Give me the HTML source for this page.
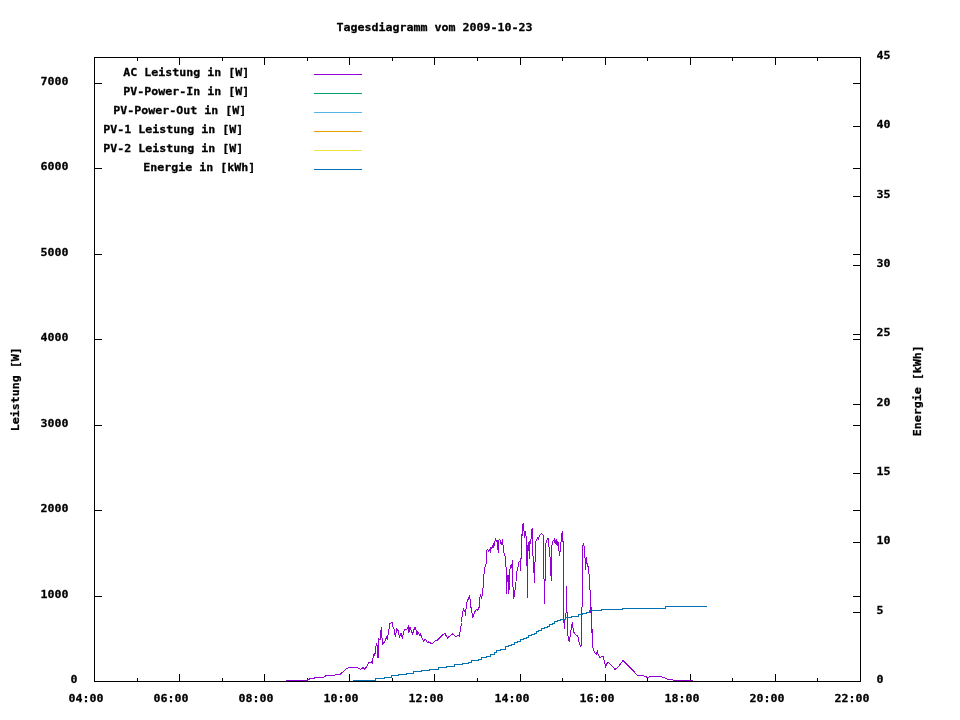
<!DOCTYPE html>
<html lang="de"><head><meta charset="utf-8"><title>Tagesdiagramm vom 2009-10-23</title>
<style>html,body{margin:0;padding:0;background:#fff;}svg{display:block;}text{font-family:"DejaVu Sans Mono", "Liberation Mono", monospace;font-size:10.600px;font-weight:bold;fill:#000;stroke:#000;stroke-width:0.25px;white-space:pre;}</style></head><body>
<svg width="960" height="720" viewBox="0 0 960 720">
<rect x="0" y="0" width="960" height="720" fill="#fff"/>
<g stroke="#000" stroke-width="1" fill="none" shape-rendering="crispEdges">
<rect x="94.5" y="57.5" width="766" height="624"/>
<line x1="137.5" y1="678" x2="137.5" y2="682"/>
<line x1="137.5" y1="57" x2="137.5" y2="61"/>
<line x1="179.5" y1="674" x2="179.5" y2="682"/>
<line x1="179.5" y1="57" x2="179.5" y2="65"/>
<line x1="222.5" y1="678" x2="222.5" y2="682"/>
<line x1="222.5" y1="57" x2="222.5" y2="61"/>
<line x1="264.5" y1="674" x2="264.5" y2="682"/>
<line x1="264.5" y1="57" x2="264.5" y2="65"/>
<line x1="307.5" y1="678" x2="307.5" y2="682"/>
<line x1="307.5" y1="57" x2="307.5" y2="61"/>
<line x1="349.5" y1="674" x2="349.5" y2="682"/>
<line x1="349.5" y1="57" x2="349.5" y2="65"/>
<line x1="392.5" y1="678" x2="392.5" y2="682"/>
<line x1="392.5" y1="57" x2="392.5" y2="61"/>
<line x1="434.5" y1="674" x2="434.5" y2="682"/>
<line x1="434.5" y1="57" x2="434.5" y2="65"/>
<line x1="477.5" y1="678" x2="477.5" y2="682"/>
<line x1="477.5" y1="57" x2="477.5" y2="61"/>
<line x1="520.5" y1="674" x2="520.5" y2="682"/>
<line x1="520.5" y1="57" x2="520.5" y2="65"/>
<line x1="562.5" y1="678" x2="562.5" y2="682"/>
<line x1="562.5" y1="57" x2="562.5" y2="61"/>
<line x1="605.5" y1="674" x2="605.5" y2="682"/>
<line x1="605.5" y1="57" x2="605.5" y2="65"/>
<line x1="647.5" y1="678" x2="647.5" y2="682"/>
<line x1="647.5" y1="57" x2="647.5" y2="61"/>
<line x1="690.5" y1="674" x2="690.5" y2="682"/>
<line x1="690.5" y1="57" x2="690.5" y2="65"/>
<line x1="732.5" y1="678" x2="732.5" y2="682"/>
<line x1="732.5" y1="57" x2="732.5" y2="61"/>
<line x1="775.5" y1="674" x2="775.5" y2="682"/>
<line x1="775.5" y1="57" x2="775.5" y2="65"/>
<line x1="817.5" y1="678" x2="817.5" y2="682"/>
<line x1="817.5" y1="57" x2="817.5" y2="61"/>
<line x1="94" y1="596.5" x2="102" y2="596.5"/>
<line x1="853" y1="596.5" x2="861" y2="596.5"/>
<line x1="94" y1="510.5" x2="102" y2="510.5"/>
<line x1="853" y1="510.5" x2="861" y2="510.5"/>
<line x1="94" y1="425.5" x2="102" y2="425.5"/>
<line x1="853" y1="425.5" x2="861" y2="425.5"/>
<line x1="94" y1="339.5" x2="102" y2="339.5"/>
<line x1="853" y1="339.5" x2="861" y2="339.5"/>
<line x1="94" y1="254.5" x2="102" y2="254.5"/>
<line x1="853" y1="254.5" x2="861" y2="254.5"/>
<line x1="94" y1="168.5" x2="102" y2="168.5"/>
<line x1="853" y1="168.5" x2="861" y2="168.5"/>
<line x1="94" y1="83.5" x2="102" y2="83.5"/>
<line x1="853" y1="83.5" x2="861" y2="83.5"/>
<line x1="853" y1="612.5" x2="861" y2="612.5"/>
<line x1="853" y1="542.5" x2="861" y2="542.5"/>
<line x1="853" y1="473.5" x2="861" y2="473.5"/>
<line x1="853" y1="404.5" x2="861" y2="404.5"/>
<line x1="853" y1="334.5" x2="861" y2="334.5"/>
<line x1="853" y1="265.5" x2="861" y2="265.5"/>
<line x1="853" y1="196.5" x2="861" y2="196.5"/>
<line x1="853" y1="126.5" x2="861" y2="126.5"/>
</g>
<text transform="translate(336.5,30.5) scale(1.0969,1)" textLength="178.688" lengthAdjust="spacing">Tagesdiagramm vom 2009-10-23</text>
<text transform="translate(70.5,683) scale(1.0969,1)" textLength="6.382" lengthAdjust="spacing">0</text>
<text transform="translate(40.5,598) scale(1.0969,1)" textLength="25.527" lengthAdjust="spacing">1000</text>
<text transform="translate(40.5,512) scale(1.0969,1)" textLength="25.527" lengthAdjust="spacing">2000</text>
<text transform="translate(40.5,427) scale(1.0969,1)" textLength="25.527" lengthAdjust="spacing">3000</text>
<text transform="translate(40.5,341) scale(1.0969,1)" textLength="25.527" lengthAdjust="spacing">4000</text>
<text transform="translate(40.5,256) scale(1.0969,1)" textLength="25.527" lengthAdjust="spacing">5000</text>
<text transform="translate(40.5,170) scale(1.0969,1)" textLength="25.527" lengthAdjust="spacing">6000</text>
<text transform="translate(40.5,85) scale(1.0969,1)" textLength="25.527" lengthAdjust="spacing">7000</text>
<text transform="translate(876.5,683) scale(1.0969,1)" textLength="6.382" lengthAdjust="spacing">0</text>
<text transform="translate(876.5,614) scale(1.0969,1)" textLength="6.382" lengthAdjust="spacing">5</text>
<text transform="translate(876.5,544) scale(1.0969,1)" textLength="12.763" lengthAdjust="spacing">10</text>
<text transform="translate(876.5,475) scale(1.0969,1)" textLength="12.763" lengthAdjust="spacing">15</text>
<text transform="translate(876.5,406) scale(1.0969,1)" textLength="12.763" lengthAdjust="spacing">20</text>
<text transform="translate(876.5,336) scale(1.0969,1)" textLength="12.763" lengthAdjust="spacing">25</text>
<text transform="translate(876.5,267) scale(1.0969,1)" textLength="12.763" lengthAdjust="spacing">30</text>
<text transform="translate(876.5,198) scale(1.0969,1)" textLength="12.763" lengthAdjust="spacing">35</text>
<text transform="translate(876.5,128) scale(1.0969,1)" textLength="12.763" lengthAdjust="spacing">40</text>
<text transform="translate(876.5,59) scale(1.0969,1)" textLength="12.763" lengthAdjust="spacing">45</text>
<text transform="translate(68.5,702) scale(1.0969,1)" textLength="31.909" lengthAdjust="spacing">04:00</text>
<text transform="translate(153.5,702) scale(1.0969,1)" textLength="31.909" lengthAdjust="spacing">06:00</text>
<text transform="translate(238.5,702) scale(1.0969,1)" textLength="31.909" lengthAdjust="spacing">08:00</text>
<text transform="translate(323.5,702) scale(1.0969,1)" textLength="31.909" lengthAdjust="spacing">10:00</text>
<text transform="translate(408.5,702) scale(1.0969,1)" textLength="31.909" lengthAdjust="spacing">12:00</text>
<text transform="translate(494.5,702) scale(1.0969,1)" textLength="31.909" lengthAdjust="spacing">14:00</text>
<text transform="translate(579.5,702) scale(1.0969,1)" textLength="31.909" lengthAdjust="spacing">16:00</text>
<text transform="translate(664.5,702) scale(1.0969,1)" textLength="31.909" lengthAdjust="spacing">18:00</text>
<text transform="translate(749.5,702) scale(1.0969,1)" textLength="31.909" lengthAdjust="spacing">20:00</text>
<text transform="translate(834.5,702) scale(1.0969,1)" textLength="31.909" lengthAdjust="spacing">22:00</text>
<text transform="translate(123.2,75.5) scale(1.0969,1)" textLength="114.871" lengthAdjust="spacing">AC Leistung in [W]</text>
<text transform="translate(123.2,94.5) scale(1.0969,1)" textLength="114.871" lengthAdjust="spacing">PV-Power-In in [W]</text>
<text transform="translate(113.2,113.5) scale(1.0969,1)" textLength="121.253" lengthAdjust="spacing">PV-Power-Out in [W]</text>
<text transform="translate(103.2,132.5) scale(1.0969,1)" textLength="127.635" lengthAdjust="spacing">PV-1 Leistung in [W]</text>
<text transform="translate(103.2,151.5) scale(1.0969,1)" textLength="127.635" lengthAdjust="spacing">PV-2 Leistung in [W]</text>
<text transform="translate(143.2,170.5) scale(1.0969,1)" textLength="102.108" lengthAdjust="spacing">Energie in [kWh]</text>
<text transform="translate(18.5,431.3) rotate(-90) scale(1.0969,1)" textLength="76.581" lengthAdjust="spacing">Leistung [W]</text>
<text transform="translate(920.5,436.3) rotate(-90) scale(1.0969,1)" textLength="82.962" lengthAdjust="spacing">Energie [kWh]</text>
<g stroke-width="1" fill="none" shape-rendering="crispEdges">
<line x1="314" y1="74.5" x2="362" y2="74.5" stroke="#9400d3"/>
<line x1="314" y1="93.5" x2="362" y2="93.5" stroke="#009e73"/>
<line x1="314" y1="112.5" x2="362" y2="112.5" stroke="#56b4e9"/>
<line x1="314" y1="131.5" x2="362" y2="131.5" stroke="#e69f00"/>
<line x1="314" y1="150.5" x2="362" y2="150.5" stroke="#f0e442"/>
<line x1="314" y1="169.5" x2="362" y2="169.5" stroke="#0072b2"/>
<polyline points="286.0,680.5 307.5,680.5 308.0,679.5 311.0,678.5 316.0,677.8 322.5,678.0 326.0,675.6 331.0,675.0 335.0,675.0 340.0,674.5 342.5,672.3 346.0,669.0 349.4,667.6 352.5,668.0 355.0,667.5 358.0,668.0 360.6,669.4 363.0,667.5 364.4,669.0 367.0,666.3 368.8,662.3 371.3,662.0 372.3,663.0 373.5,655.0 374.4,653.8 374.8,655.6 376.3,643.8 376.9,643.1 377.8,657.5 378.5,657.5 379.0,638.8 380.0,640.0 381.3,627.3 381.9,636.3 382.5,644.4 384.4,641.9 385.6,640.6 386.3,636.3 387.3,639.8 389.8,623.8 391.3,623.0 392.5,622.5 393.1,627.5 394.4,629.4 395.3,636.9 396.9,628.8 397.8,629.4 399.4,637.3 401.0,633.0 402.3,637.5 404.4,630.0 406.9,629.0 408.8,625.6 409.0,632.5 410.0,626.9 411.3,631.3 412.5,634.0 414.8,627.3 415.6,628.1 416.9,635.0 417.8,631.9 420.0,636.3 420.6,634.4 423.5,641.3 425.0,638.8 427.5,642.5 428.8,641.9 431.9,643.8 435.0,641.0 436.9,640.6 440.0,637.5 442.5,635.0 445.0,633.5 447.5,638.1 449.4,636.3 452.5,634.1 455.6,636.3 458.8,635.6 459.4,636.3 460.3,630.0 461.5,622.5 462.5,612.5 463.5,609.4 465.0,611.9 465.4,616.3 466.5,603.8 467.5,600.6 469.4,596.3 470.3,600.0 471.0,607.5 472.8,617.5 474.4,612.5 476.3,609.4 477.5,610.6 479.0,607.5 479.6,605.0 480.0,597.5 480.6,594.4 481.5,597.5 482.8,593.1 483.5,577.5 485.0,567.5 486.3,562.5 486.5,550.6 487.8,549.4 488.8,551.3 489.4,549.8 490.3,551.5 491.0,547.5 491.9,549.0 492.5,545.6 493.1,548.1 494.0,543.1 494.5,545.6 495.3,538.1 496.3,541.3 497.3,540.6 497.8,548.8 498.4,552.5 499.0,540.0 499.8,539.0 500.6,543.8 501.5,544.4 502.5,539.4 503.0,545.0 503.8,552.5 505.0,556.3 505.6,565.0 506.3,568.8 506.5,594.4 507.3,575.0 508.1,575.0 508.5,594.4 509.0,581.3 509.5,590.0 510.0,568.8 511.3,564.4 511.9,567.5 512.5,560.3 512.8,586.3 513.5,588.8 513.8,599.4 514.8,590.0 515.6,589.4 516.5,572.5 517.5,570.0 518.8,562.5 520.0,561.3 520.3,570.6 520.6,558.8 521.3,558.1 521.5,534.4 522.3,536.3 522.5,525.6 523.5,523.1 524.0,530.6 524.5,538.1 525.0,531.3 525.6,535.6 526.3,536.9 526.8,566.3 527.3,545.0 527.5,597.5 528.1,544.4 528.8,541.9 529.5,558.8 530.0,541.3 530.8,544.4 531.3,531.3 532.3,528.1 532.8,548.8 533.5,572.5 534.0,563.8 534.5,582.5 535.0,562.5 535.6,541.9 536.5,540.0 537.5,537.5 538.5,538.8 539.4,535.6 541.3,533.5 543.1,535.0 543.8,565.0 544.4,603.8 545.0,582.5 545.6,545.0 546.9,540.0 548.1,538.5 548.8,545.0 549.8,552.5 550.6,568.8 551.3,580.6 551.5,548.8 552.5,541.9 553.5,540.5 554.4,539.4 554.9,542.5 555.4,539.8 555.9,543.5 556.5,538.8 557.0,544.5 557.5,541.0 557.9,546.0 558.3,542.5 559.4,555.6 560.3,550.0 560.5,542.5 561.5,541.7 561.5,534.2 562.5,531.3 562.5,541.7 563.5,542.0 563.6,600.0 563.8,620.0 564.4,628.8 565.3,615.0 566.0,613.8 566.5,586.0 566.9,607.5 567.5,631.3 568.5,640.0 569.4,641.3 570.6,632.5 572.3,622.5 573.5,631.9 575.6,634.4 577.8,636.3 579.4,643.8 580.6,646.3 581.3,645.0 581.5,607.5 582.4,606.3 582.5,547.0 583.5,543.0 584.3,547.0 584.4,557.5 585.4,558.3 585.5,569.6 586.5,557.0 586.5,563.0 587.5,563.3 587.5,566.7 588.5,567.0 588.5,573.8 589.5,574.2 590.0,590.0 590.6,597.5 590.8,613.0 591.1,607.0 591.4,628.0 591.7,616.0 592.1,638.0 592.3,629.0 592.6,646.9 594.4,651.9 596.3,654.4 597.5,650.6 597.8,653.8 600.0,657.5 603.1,656.3 605.6,666.3 607.5,662.5 609.4,663.1 615.0,669.4 617.8,667.5 623.1,660.4 630.0,667.5 637.5,675.3 643.1,675.4 647.5,677.5 651.9,676.3 660.6,676.3 667.5,679.1 673.0,679.8 673.8,680.5 692.5,680.5" fill="none" stroke="#9400d3" stroke-width="1"/>
<polyline points="352.5,680.5 375.5,680.5 375.5,678.6 384.2,678.6 384.2,677.5 391.9,677.5 391.9,675.6 398.8,675.6 398.8,674.4 406.2,674.4 406.2,673.1 413.8,673.1 413.8,671.6 421.9,671.6 421.9,670.2 429.4,670.2 429.4,669.1 438.8,669.1 438.8,667.5 446.9,667.5 446.9,666.2 454.4,666.2 454.4,664.8 462.5,664.8 462.5,663.5 468.1,663.5 468.1,662.2 471.9,662.2 471.9,660.6 478.1,660.6 478.1,659.0 481.9,659.0 481.9,657.5 486.2,657.5 486.2,656.0 490.6,656.0 490.6,654.0 494.4,654.0 494.4,652.5 496.9,652.5 496.9,650.6 500.6,650.6 500.6,649.1 505.0,649.1 505.0,646.9 508.0,646.9 508.0,645.6 508.0,645.6 508.0,645.4 511.5,645.4 511.5,644.1 514.5,644.1 514.5,642.7 517.5,642.7 517.5,641.3 520.5,641.3 520.5,639.9 523.0,639.9 523.0,638.5 526.0,638.5 526.0,637.1 528.5,637.1 528.5,635.7 531.5,635.7 531.5,634.4 534.0,634.4 534.0,633.0 536.0,633.0 536.0,631.6 538.5,631.6 538.5,630.2 541.0,630.2 541.0,628.8 544.0,628.8 544.0,627.4 547.0,627.4 547.0,626.0 549.5,626.0 549.5,624.6 552.0,624.6 552.0,623.3 554.5,623.3 554.5,621.9 557.0,621.9 557.0,620.5 560.5,620.5 560.5,619.1 565.5,619.1 565.5,617.7 571.5,617.7 571.5,616.3 578.0,616.3 578.0,614.9 582.0,614.9 582.0,613.6 586.0,613.6 586.0,612.2 589.5,612.2 589.5,610.8 591.2,610.8 591.2,610.5 601.9,610.5 601.9,609.5 622.5,609.5 622.5,608.5 665.5,608.5 665.5,606.5 707.0,606.5" fill="none" stroke="#0072b2" stroke-width="1"/>
</g>
</svg></body></html>
